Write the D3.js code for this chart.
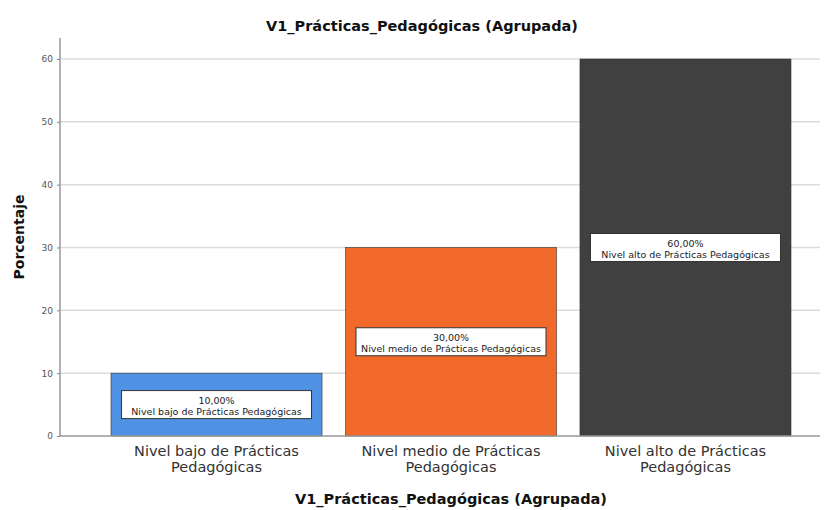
<!DOCTYPE html>
<meta charset="utf-8">
<script src="https://d3js.org/d3.v7.min.js"></script>
<style>
  body { margin: 0; background: #fff; }
  text { font-family: "DejaVu Sans", sans-serif; }
</style>
<div id="chart"></div>
<script>
// data
var categories = ["Nivel bajo de Prácticas Pedagógicas",
                  "Nivel medio de Prácticas Pedagógicas",
                  "Nivel alto de Prácticas Pedagógicas"];
var catLines = [["Nivel bajo de Prácticas", "Pedagógicas"],
                ["Nivel medio de Prácticas", "Pedagógicas"],
                ["Nivel alto de Prácticas", "Pedagógicas"]];
var percents = [10, 30, 60];
var colors = ["#4f92e3", "#f2692c", "#404040"];
var yTicks = [0, 10, 20, 30, 40, 50, 60];

var W = 833, H = 510;
var svg = d3.select("#chart").append("svg")
  .attr("width", W).attr("height", H);

var x = d3.scaleBand()
  .domain(categories)
  .range([111, 791])
  .paddingInner(0.1)
  .paddingOuter(0);

var y = d3.scaleLinear()
  .domain([0, 60])
  .range([436, 59]);

var plotLeft = 60, plotRight = 820, plotTop = 38;

// gridlines
svg.append("g").selectAll("line")
  .data(yTicks.filter(function(d) { return d > 0; }))
  .enter().append("line")
    .attr("x1", plotLeft).attr("x2", plotRight)
    .attr("y1", function(d) { return y(d); })
    .attr("y2", function(d) { return y(d); })
    .attr("stroke", "#dcdcdc").attr("stroke-width", 1.5);

// left axis
var yAxis = svg.append("g")
  .attr("transform", "translate(" + plotLeft + ",0)")
  .call(d3.axisLeft(y).tickValues(yTicks).tickSize(3).tickPadding(4));
yAxis.select(".domain").remove();
yAxis.selectAll(".tick line").attr("stroke", "#888");
yAxis.selectAll("text")
  .style("font-size", "9px").attr("fill", "#555");
svg.append("line")
  .attr("x1", plotLeft).attr("x2", plotLeft).attr("y1", plotTop).attr("y2", y(0))
  .attr("stroke", "#999").attr("stroke-width", 1.5);

// bars
svg.append("g").selectAll("rect")
  .data(categories)
  .enter().append("rect")
    .attr("x", function(d) { return x(d); })
    .attr("y", function(d, i) { return y(percents[i]); })
    .attr("width", x.bandwidth())
    .attr("height", function(d, i) { return y(0) - y(percents[i]); })
    .attr("fill", function(d, i) { return colors[i]; })
    .attr("stroke", "#333").attr("stroke-width", 0.6);

// bottom axis line
svg.append("line")
  .attr("x1", plotLeft).attr("x2", plotRight).attr("y1", y(0)).attr("y2", y(0))
  .attr("stroke", "#999").attr("stroke-width", 1.5);

// labels inside bars
var lab = svg.append("g").selectAll("g")
  .data(categories)
  .enter().append("g")
    .attr("transform", function(d, i) {
      return "translate(" + (x(d) + x.bandwidth() / 2) + "," + y(percents[i] / 2) + ")";
    });
lab.append("rect")
  .attr("x", -95).attr("y", -14).attr("width", 190).attr("height", 28)
  .attr("fill", "#fff").attr("stroke", "#333").attr("stroke-width", 1);
lab.append("text")
  .attr("text-anchor", "middle").attr("y", -1)
  .style("font-size", "9.5px").attr("fill", "#222")
  .text(function(d, i) { return d3.format(".2f")(percents[i]).replace(".", ",") + "%"; });
lab.append("text")
  .attr("text-anchor", "middle").attr("y", 10)
  .style("font-size", "9.5px").attr("fill", "#222")
  .text(function(d) { return d; });

// category labels
var cat = svg.append("g").selectAll("text")
  .data(categories)
  .enter().append("text")
    .attr("text-anchor", "middle")
    .attr("x", function(d) { return x(d) + x.bandwidth() / 2; })
    .attr("y", 456)
    .style("font-size", "14.5px").attr("fill", "#333");
cat.selectAll("tspan")
  .data(function(d, i) { return catLines[i]; })
  .enter().append("tspan")
    .attr("x", function() { return d3.select(this.parentNode).attr("x"); })
    .attr("dy", function(d, j) { return j === 0 ? 0 : 16; })
    .text(function(d) { return d; });

// titles
svg.append("text")
  .attr("text-anchor", "middle").attr("x", 422).attr("y", 31)
  .style("font-size", "14.5px").style("font-weight", "bold").attr("fill", "#111")
  .text("V1_Prácticas_Pedagógicas (Agrupada)");
svg.append("text")
  .attr("text-anchor", "middle").attr("x", 451).attr("y", 504)
  .style("font-size", "14.5px").style("font-weight", "bold").attr("fill", "#111")
  .text("V1_Prácticas_Pedagógicas (Agrupada)");
svg.append("text")
  .attr("text-anchor", "middle")
  .attr("transform", "translate(24,237) rotate(-90)")
  .style("font-size", "14px").style("font-weight", "bold").attr("fill", "#111")
  .text("Porcentaje");
</script>
